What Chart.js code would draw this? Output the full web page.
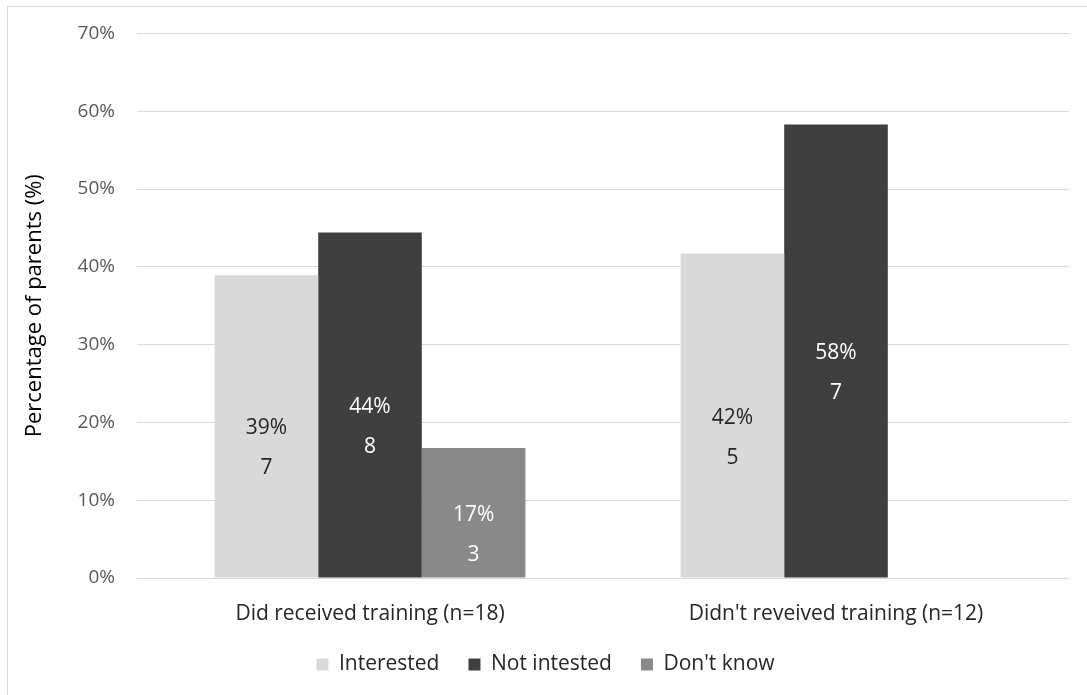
<!DOCTYPE html>
<html>
<head>
<meta charset="utf-8">
<script src="https://cdn.jsdelivr.net/npm/chart.js@4.4.1/dist/chart.umd.min.js"></script>
<style>
  html, body { margin: 0; padding: 0; background: #fff; }
  #wrap { width: 1087px; height: 695px; position: relative; }
</style>
</head>
<body>
<div id="wrap"><canvas id="chart" width="1087" height="695"></canvas></div>
<script>
// Training groups and parent responses
const groups = ['Did received training (n=18)', "Didn't reveived training (n=12)"];
const seriesNames = ['Interested', 'Not intested', "Don't know"];

// Percent of parents per group
const interestedPct = [38.9, 41.7];
const notInterestedPct = [44.4, 58.3];
const dontKnowPct = [16.7, 0];

// Number of parents per group
const interestedCount = [7, 5];
const notInterestedCount = [8, 7];
const dontKnowCount = [3, 0];

const yTicks = [0, 10, 20, 30, 40, 50, 60, 70];

const FONT = "'Open Sans', 'Noto Sans', sans-serif";

// Writes "xx%" at the middle of each bar with the count just below it
const barLabels = {
    id: 'barLabels',
    afterDatasetsDraw(chart) {
        const ctx = chart.ctx;
        ctx.save();
        ctx.font = '21px ' + FONT;
        ctx.textAlign = 'center';
        ctx.textBaseline = 'middle';
        chart.data.datasets.forEach((ds, di) => {
            const meta = chart.getDatasetMeta(di);
            meta.data.forEach((bar, i) => {
                const v = ds.data[i];
                if (!v) return;
                const mid = (bar.y + bar.base) / 2;
                ctx.fillStyle = ds.labelColor;
                ctx.fillText(Math.round(v) + '%', bar.x, mid + 2);
                ctx.fillText(String(ds.counts[i]), bar.x, mid + 42);
            });
        });
        ctx.restore();
    }
};

// Thin frame around the whole figure
const frame = {
    id: 'frame',
    afterDraw(chart) {
        const ctx = chart.ctx;
        ctx.save();
        ctx.strokeStyle = '#d9d9d9';
        ctx.lineWidth = 1;
        ctx.strokeRect(7.5, 6.5, 1200, 800);
        ctx.restore();
    }
};

const chart = new Chart(document.getElementById('chart'), {
    type: 'bar',
    data: {
        labels: groups,
        datasets: [{
            label: seriesNames[0],
            data: interestedPct,
            counts: interestedCount,
            backgroundColor: '#d9d9d9',
            labelColor: '#262626'
        }, {
            label: seriesNames[1],
            data: notInterestedPct,
            counts: notInterestedCount,
            backgroundColor: '#3f3f3f',
            labelColor: '#ffffff'
        }, {
            label: seriesNames[2],
            data: dontKnowPct,
            counts: dontKnowCount,
            backgroundColor: '#898989',
            labelColor: '#ffffff'
        }]
    },
    options: {
        responsive: false,
        animation: false,
        layout: { padding: { top: 33, right: 18, bottom: 10, left: 22 } },
        datasets: {
            bar: { categoryPercentage: 0.667, barPercentage: 1 }
        },
        plugins: {
            legend: {
                position: 'bottom',
                labels: {
                    boxWidth: 12,
                    boxHeight: 12,
                    padding: 29,
                    color: '#262626',
                    font: { family: FONT, size: 21 }
                }
            },
            tooltip: { enabled: false }
        },
        scales: {
            x: {
                grid: { display: false },
                border: { display: false },
                ticks: {
                    color: '#262626',
                    padding: 15,
                    font: { family: FONT, size: 21 }
                },
                afterFit(scale) { scale.height = 47; }
            },
            y: {
                min: 0,
                max: 70,
                afterBuildTicks(scale) {
                    scale.ticks = yTicks.map(v => ({ value: v }));
                },
                grid: { color: '#d9d9d9', drawTicks: false },
                border: { display: false },
                ticks: {
                    color: '#595959',
                    padding: 22,
                    font: { family: FONT, size: 19 },
                    callback: v => v + '%'
                },
                title: {
                    display: true,
                    text: 'Percentage of parents (%)',
                    color: '#000000',
                    font: { family: FONT, size: 22 },
                    padding: { top: 0, bottom: 4 }
                },
                afterFit(scale) { scale.width = 115; }
            }
        }
    },
    plugins: [barLabels, frame]
});
</script>
</body>
</html>
